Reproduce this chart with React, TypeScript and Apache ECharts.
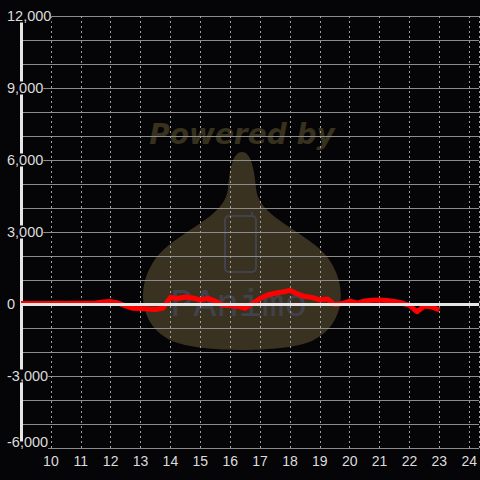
import React, { useEffect, useRef } from "react";
import * as echarts from "echarts";

const hours = [
  9, 9.25, 9.5, 9.75, 10, 10.25, 10.5, 10.75, 11, 11.25, 11.5, 11.75, 12, 12.25, 12.5, 12.75,
  13, 13.25, 13.5, 13.75, 14, 14.25, 14.5, 14.75, 15, 15.25, 15.5, 15.75, 16, 16.25, 16.5,
  16.75, 17, 17.25, 17.5, 17.75, 18, 18.25, 18.5, 18.75, 19, 19.25, 19.5, 19.75, 20, 20.25,
  20.5, 20.75, 21, 21.25, 21.5, 21.75, 22, 22.25, 22.5, 22.75, 23,
];
const values = [
  20, 25, 20, 25, 25, 30, 25, 30, 30, 35, 40, 80, 100, 40, -80, -180,
  -190, -210, -230, -170, 270, 230, 290, 250, 170, 230, 120, -40, -60, -100, -180,
  20, 230, 375, 450, 500, 570, 420, 310, 270, 170, 210, -20, 20, 120, 40,
  125, 155, 170, 145, 105, 40, -60, -320, -80, -125, -250,
];

const yTickLabels = [-6000, -3000, 0, 3000, 6000, 9000, 12000];
const xTickLabels = [10, 11, 12, 13, 14, 15, 16, 17, 18, 19, 20, 21, 22, 23, 24];

const BG = "#050407";
const dropPath =
  "M 242 152 C 250 152 254 165 256 188 C 258 212 285 222 315 245 C 348 270 352 322 312 341 C 285 353 200 353 172 341 C 132 322 136 270 169 245 C 199 222 226 212 228 188 C 230 165 234 152 242 152 Z";

export default function App() {
  const ref = useRef<HTMLDivElement>(null);
  useEffect(() => {
    if (!ref.current) return;
    echarts.graphic.registerShape("drop", echarts.graphic.extendPath(dropPath, {}));
    const chart = echarts.init(ref.current, null, { renderer: "svg" });
    const data = hours.map((h, i) => [h, values[i]]);
    chart.setOption({
      animation: false,
      backgroundColor: BG,
      grid: { left: 21, right: 0, top: 16, bottom: 32 },
      graphic: [
        {
          type: "drop",
          z: -10,
          x: 0,
          y: 0,
          silent: true,
          style: { fill: "#3a3220" },
        },
        {
          type: "text",
          z: -10,
          x: 242,
          y: 134,
          silent: true,
          style: {
            text: "Powered by",
            fill: "#37311d",
            font: "italic bold 28px 'DejaVu Sans'",
            align: "center",
            verticalAlign: "middle",
          },
        },
        {
          type: "rect",
          z: -9,
          silent: true,
          shape: { x: 225, y: 216, width: 31, height: 56, r: 4 },
          style: { fill: "none", stroke: "#42424c", lineWidth: 2 },
        },
        {
          type: "line",
          z: -9,
          silent: true,
          shape: { x1: 252, y1: 216, x2: 252, y2: 212 },
          style: { stroke: "#42424c", lineWidth: 2 },
        },
        {
          type: "text",
          z: -9,
          x: 239,
          y: 305,
          silent: true,
          style: {
            text: "PAnimo",
            fill: "#42424c",
            font: "38px 'Liberation Mono'",
            align: "center",
            verticalAlign: "middle",
          },
        },
      ],
      xAxis: {
        type: "value",
        min: 9,
        max: 24.33,
        interval: 1,
        axisLine: { show: false },
        axisTick: { show: false },
        axisLabel: {
          color: "#dcdcdc",
          fontSize: 14,
          fontFamily: "Liberation Sans",
          margin: 6,
          showMinLabel: false,
          showMaxLabel: false,
          formatter: (v: number) => (xTickLabels.includes(v) ? String(v) : ""),
        },
        splitLine: {
          show: true,
          lineStyle: { color: "#a0a0a0", width: 1, type: [2, 3] },
        },
      },
      yAxis: {
        type: "value",
        min: -6000,
        max: 12000,
        interval: 1000,
        axisLine: { show: true, lineStyle: { color: "#e6e6e6", width: 3 } },
        axisTick: { show: false },
        axisLabel: {
          color: "#dcdcdc",
          fontSize: 14.5,
          fontFamily: "Liberation Sans",
          align: "left",
          margin: 14,
          backgroundColor: BG,
          lineHeight: 13,
          formatter: (v: number) => {
            if (!yTickLabels.includes(v)) return "";
            const s = v.toLocaleString("en-US");
            return v === -6000 ? "{low|" + s + "}" : s;
          },
          rich: {
            low: {
              color: "#dcdcdc",
              fontSize: 14.5,
              fontFamily: "Liberation Sans",
              lineHeight: 13,
              padding: [0, 0, 12, 0],
            },
          },
        },
        splitLine: {
          show: true,
          lineStyle: { color: "#8c8c8c", width: 1, type: "solid" },
        },
      },
      series: [
        {
          type: "line",
          z: 1,
          data: [],
          markLine: {
            silent: true,
            symbol: "none",
            label: { show: false },
            lineStyle: { color: "#e6e6e6", width: 3, type: "solid" },
            data: [{ yAxis: 0 }],
          },
        },
        {
          type: "line",
          z: 3,
          data,
          showSymbol: false,
          symbol: "none",
          lineStyle: { color: "#ff0000", width: 5, join: "round" },
        },
      ],
    });
    return () => chart.dispose();
  }, []);
  return (
    <div
      ref={ref}
      style={{ position: "fixed", left: 0, top: 0, width: 480, height: 480 }}
    />
  );
}
